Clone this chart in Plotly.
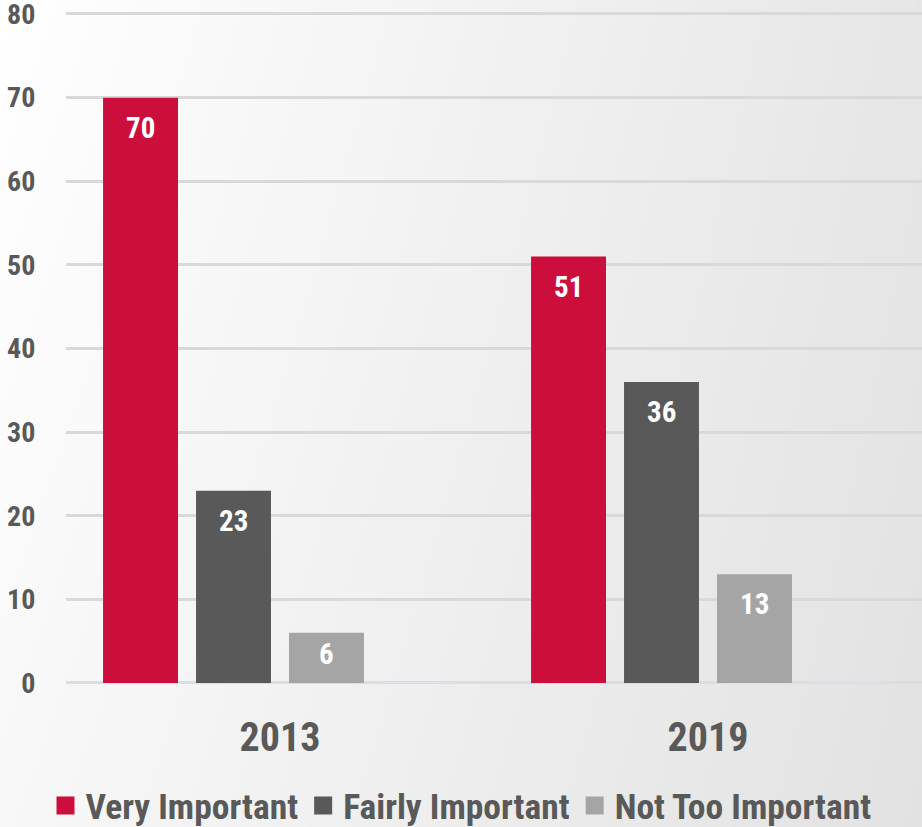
import plotly.graph_objects as go

years = ["2013", "2019"]
very_important = [70, 51]
fairly_important = [23, 36]
not_too_important = [6, 13]

series_names = ["Very Important", "Fairly Important", "Not Too Important"]
series_colors = ["#CC0E3D", "#595959", "#A5A5A5"]
series_values = [very_important, fairly_important, not_too_important]

FONT = "Liberation Sans Narrow, Arial Narrow, Roboto Condensed, sans-serif"
TEXT_GRAY = "#595959"

# plot box in pixels (value 0 at y=683, value 80 at y=14)
W, H = 922, 827
PLOT_LEFT = 66
PX_PER_UNIT = (683 - 14) / 80
Y_TOP = 80.2
y_top_px = 683 - Y_TOP * PX_PER_UNIT

BARGAP = 0.131
N_SLOTS = 4  # Excel chart has a 4th (empty) series slot
cat_px = (W - PLOT_LEFT) / len(years)
slot_px = cat_px * (1 - BARGAP) / N_SLOTS

fig = go.Figure()

# soft grey gradient behind everything (white top-left -> grey right)
# lives on the first subplot so the bars' subplot is drawn on top of it
fig.add_trace(go.Heatmap(
    x=[0, 1], y=[0, 1],
    z=[[0.25, 1.0], [0.0, 0.85]],
    colorscale=[[0, "#FFFFFF"], [1, "#E2E2E2"]],
    zsmooth="best", showscale=False, hoverinfo="skip",
    xaxis="x", yaxis="y",
))

annotations = []
for i, (name, vals, color) in enumerate(zip(series_names, series_values, series_colors)):
    fig.add_trace(go.Bar(
        x=years, y=vals, name=name, legendgroup=name, showlegend=False,
        xaxis="x2", yaxis="y2",
        marker=dict(color=color, line_width=0),
    ))
    # legend entry with a bigger square swatch
    fig.add_trace(go.Scatter(
        x=[None], y=[None], name=name, legendgroup=name, mode="markers",
        xaxis="x2", yaxis="y2", hoverinfo="skip",
        marker=dict(symbol="square", size=16, color=color,
                    line=dict(color=color, width=2)),
    ))
    # value labels, "inside end" like Excel
    xshift = -cat_px * (1 - BARGAP) / 2 + slot_px * (i + 0.5)
    for j, v in enumerate(vals):
        down = min(30, v * PX_PER_UNIT / 2 - 4)
        annotations.append(dict(
            x=j, y=v, xref="x2", yref="y2", text=str(v), showarrow=False,
            xshift=xshift, yshift=-down, yanchor="middle",
            font=dict(family=FONT, size=29, color="white", weight="bold"),
        ))

# empty 4th series keeps the Excel-style slot on the right of each group
fig.add_trace(go.Bar(x=years, y=[0, 0], showlegend=False, hoverinfo="skip",
                     xaxis="x2", yaxis="y2",
                     marker=dict(color="rgba(0,0,0,0)")))

fig.update_layout(
    width=W, height=H,
    margin=dict(l=0, r=0, t=0, b=0, autoexpand=False),
    paper_bgcolor="white",
    plot_bgcolor="rgba(0,0,0,0)",
    barmode="group",
    bargap=BARGAP,
    bargroupgap=0.194,
    font=dict(family=FONT, color=TEXT_GRAY, weight="bold"),
    annotations=annotations,
    xaxis=dict(domain=[0, 1], range=[0, 1], visible=False, anchor="y"),
    yaxis=dict(domain=[0, 1], range=[0, 1], visible=False, anchor="x"),
    xaxis2=dict(
        type="category", categoryarray=years, categoryorder="array",
        range=[-0.5, len(years) - 0.5],
        domain=[PLOT_LEFT / W, 1.0], anchor="y2",
        showgrid=False, showline=False, zeroline=False,
        ticks="outside", ticklen=19, tickcolor="rgba(0,0,0,0)",
        tickfont=dict(size=40, family=FONT, color=TEXT_GRAY, weight="bold"),
    ),
    yaxis2=dict(
        domain=[(H - 683) / H, (H - y_top_px) / H], anchor="x2",
        range=[0, Y_TOP], tick0=0, dtick=10,
        showgrid=True, gridcolor="#D9D9D9", gridwidth=2.5,
        zeroline=True, zerolinecolor="#D9DEE4", zerolinewidth=2.5,
        ticks="outside", ticklen=24, tickcolor="rgba(0,0,0,0)",
        ticklabeloverflow="allow",
        tickfont=dict(size=28, family=FONT, color=TEXT_GRAY, weight="bold"),
    ),
    legend=dict(
        orientation="h", x=0.5, xanchor="center",
        y=(H - 806) / H, yanchor="middle",
        font=dict(size=35.5, family=FONT, color=TEXT_GRAY, weight="bold"),
        bgcolor="rgba(0,0,0,0)",
    ),
)

fig.write_html(
    "out.html",
    config={"displayModeBar": False},
    post_script="document.body.style.margin='0';"
                "document.documentElement.style.overflow='hidden';",
)
